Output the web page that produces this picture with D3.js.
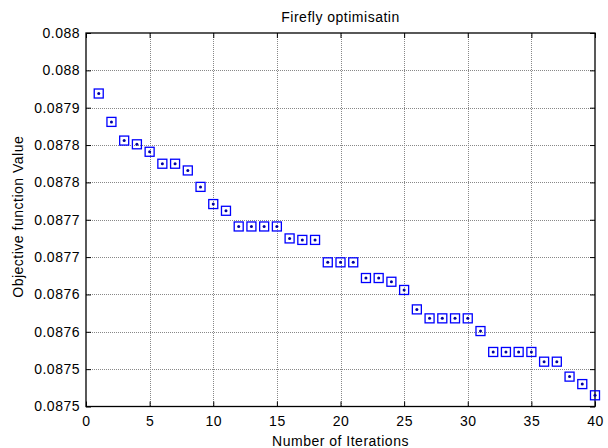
<!DOCTYPE html>
<html>
<head>
<meta charset="utf-8">
<script src="https://cdn.jsdelivr.net/npm/d3@7"></script>
<style>
  html, body { margin: 0; padding: 0; background: #fff; }
  svg { display: block; font-family: "Liberation Sans", Arial, sans-serif; }
  .lbl { font-size: 14px; letter-spacing: 0.5px; fill: #000; }
</style>
</head>
<body>
<div id="chart"></div>
<script>
// MATLAB 风格的散点图: 方块标记 + 中心点, 点状网格, 四周封闭坐标框
const iterations = [1, 2, 3, 4, 5, 6, 7, 8, 9, 10, 11, 12, 13, 14, 15, 16, 17, 18, 19, 20,
  21, 22, 23, 24, 25, 26, 27, 28, 29, 30, 31, 32, 33, 34, 35, 36, 37, 38, 39, 40];
const objective = [
  0.087869, 0.087831, 0.087806, 0.087801, 0.087791, 0.087775, 0.087775, 0.087766, 0.087744, 0.087721,
  0.087712, 0.087691, 0.087691, 0.087691, 0.087691, 0.087675, 0.087673, 0.087673, 0.087643, 0.087643,
  0.087643, 0.087622, 0.087622, 0.087617, 0.087606, 0.087580, 0.087568, 0.087568, 0.087568, 0.087568,
  0.087551, 0.087523, 0.087523, 0.087523, 0.087523, 0.087510, 0.087510, 0.087490, 0.087480, 0.087465
];
const xTicks = [0, 5, 10, 15, 20, 25, 30, 35, 40];
const yTicks = [0.08745, 0.0875, 0.08755, 0.0876, 0.08765, 0.0877, 0.08775, 0.0878, 0.08785, 0.0879, 0.08795];
// 原图刻度标签四舍五入到 4 位小数, 出现重复
const yTickLabels = ["0.0875", "0.0875", "0.0876", "0.0876", "0.0877", "0.0877",
  "0.0878", "0.0878", "0.0879", "0.088", "0.088"];

const W = 608, H = 448;
const box = { left: 86, right: 595, top: 33, bottom: 406.5 };

const svg = d3.select("#chart").append("svg").attr("width", W).attr("height", H);

const x = d3.scaleLinear().domain([0, 40]).range([box.left, box.right]);
const y = d3.scaleLinear().domain([yTicks[0], yTicks[yTicks.length - 1]]).range([box.bottom, box.top]);

// 网格
const gGrid = svg.append("g").attr("stroke", "#888").attr("stroke-dasharray", "1,1").attr("stroke-width", 1);
gGrid.selectAll("line.gx").data(xTicks.slice(1, -1)).join("line")
  .attr("x1", (d) => Math.round(x(d)) + 0.5).attr("x2", (d) => Math.round(x(d)) + 0.5)
  .attr("y1", box.top).attr("y2", box.bottom);
gGrid.selectAll("line.gy").data(yTicks.slice(1, -1)).join("line")
  .attr("y1", (d) => Math.round(y(d)) + 0.5).attr("y2", (d) => Math.round(y(d)) + 0.5)
  .attr("x1", box.left).attr("x2", box.right);

// 坐标轴 (刻度朝内)
const fmtY = (d, i) => yTickLabels[i];
const gx = svg.append("g").attr("transform", `translate(0,${box.bottom})`)
  .call(d3.axisBottom(x).tickValues(xTicks).tickSizeInner(-5).tickSizeOuter(0).tickPadding(10).tickFormat(d3.format("d")));
const gy = svg.append("g").attr("transform", `translate(${box.left},0)`)
  .call(d3.axisLeft(y).tickValues(yTicks).tickSizeInner(-5).tickSizeOuter(0).tickPadding(6).tickFormat(fmtY));
const gt = svg.append("g").attr("transform", `translate(0,${box.top})`)
  .call(d3.axisTop(x).tickValues(xTicks).tickSizeInner(-5).tickSizeOuter(0).tickFormat(""));
const gr = svg.append("g").attr("transform", `translate(${box.right},0)`)
  .call(d3.axisRight(y).tickValues(yTicks).tickSizeInner(-5).tickSizeOuter(0).tickFormat(""));

[gx, gy, gt, gr].forEach((g) => {
  g.select(".domain").remove();
  g.selectAll("line").attr("stroke", "#000");
  g.selectAll("text").attr("class", "lbl").attr("font-size", null).attr("font-family", null);
});

svg.append("rect")
  .attr("x", box.left).attr("y", box.top)
  .attr("width", box.right - box.left).attr("height", box.bottom - box.top)
  .attr("fill", "none").attr("stroke", "#000").attr("stroke-width", 1.3);

// 数据点
const pts = iterations.map((it, i) => ({ it, v: objective[i] }));
const gPts = svg.append("g");
gPts.selectAll("rect").data(pts).join("rect")
  .attr("x", (d) => x(d.it) - 4.5).attr("y", (d) => y(d.v) - 4.5)
  .attr("width", 9).attr("height", 9)
  .attr("fill", "none").attr("stroke", "#0000ff").attr("stroke-width", 1.3);
gPts.selectAll("circle").data(pts).join("circle")
  .attr("cx", (d) => x(d.it)).attr("cy", (d) => y(d.v)).attr("r", 1.5)
  .attr("fill", "#0000a0");

// 标题与轴标题
const cx = (box.left + box.right) / 2;
svg.append("text").attr("class", "lbl").attr("x", cx).attr("y", 22)
  .attr("text-anchor", "middle").text("Firefly optimisatin");
svg.append("text").attr("class", "lbl").attr("x", cx).attr("y", 446)
  .attr("text-anchor", "middle").text("Number of Iterations");
svg.append("text").attr("class", "lbl")
  .attr("transform", `translate(23,${(box.top + box.bottom) / 2 - 3}) rotate(-90)`)
  .attr("text-anchor", "middle").text("Objective function Value");
</script>
</body>
</html>
